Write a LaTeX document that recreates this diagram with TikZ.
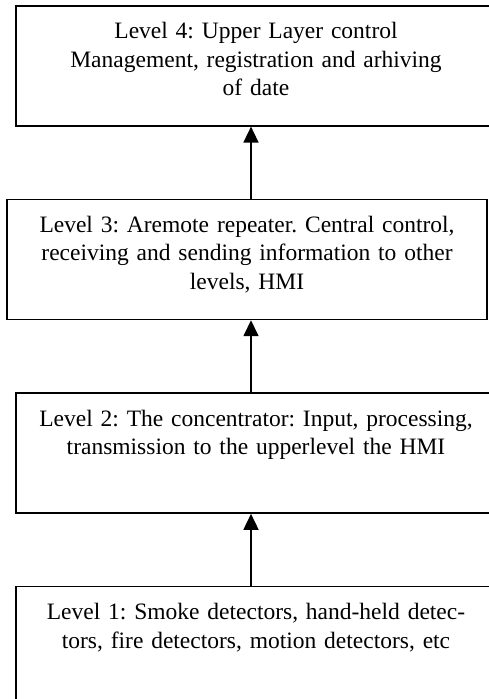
\documentclass[tikz,border=0pt]{standalone}
\usepackage{fontspec}
\setmainfont{Liberation Serif}
\usetikzlibrary{arrows.meta,positioning}
\tikzset{
  basic/.style = {draw, line width=1.6pt, rectangle, font=\fontsize{23.5}{28.5}\selectfont\frenchspacing},
  layer/.style = {basic, align=center, text width=460pt, minimum width=480pt,
                  inner xsep=10pt, inner ysep=0pt, text height=33pt, text depth=87pt},
  link/.style  = {line width=1.6pt, -{Triangle[width=15pt,length=16pt]}}
}

\begin{document}
\begin{tikzpicture}[node distance=72pt]
\useasboundingbox (0,0) rectangle (489pt,-699pt);
\coordinate (axis) at (251pt,0);
\node[layer, anchor=north] (l4) at (256pt,-5pt)
  {Level 4: Upper Layer control\\ Management, registration and arhiving\\ of date};
\node[layer, below=of l4, xshift=-9pt] (l3)
  {Level 3: Aremote repeater. Central control,\\ receiving and sending information to other\\ levels, HMI};
\node[layer, below=of l3, xshift=9pt] (l2)
  {Level 2: The concentrator: Input, processing,\\ transmission to the upperlevel the HMI};
\node[layer, below=of l2] (l1)
  {Level 1: Smoke detectors, hand-held detec-\\ tors, fire detectors, motion detectors, etc};
% arrows go upward, level by level
\draw[link] (l1.north -| axis) -- (l2.south -| axis);
\draw[link] (l2.north -| axis) -- (l3.south -| axis);
\draw[link] (l3.north -| axis) -- (l4.south -| axis);
\end{tikzpicture}
\end{document}
